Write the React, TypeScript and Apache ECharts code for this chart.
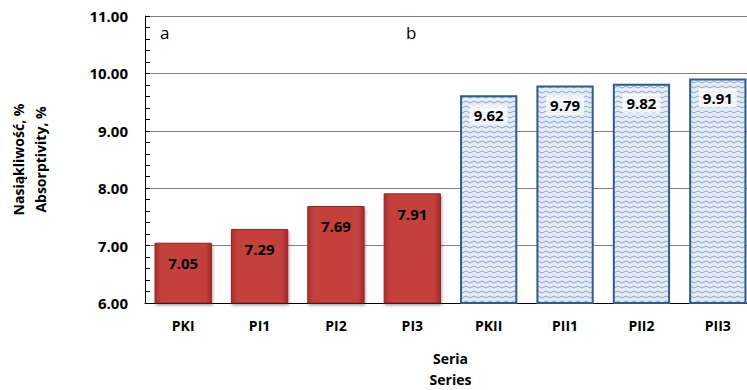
import React, { useEffect, useRef } from "react";
import * as echarts from "echarts";

const categories = ["PKI", "PI1", "PI2", "PI3", "PKII", "PII1", "PII2", "PII3"];
const groupA = [7.05, 7.29, 7.69, 7.91, null, null, null, null];
const groupB = [null, null, null, null, 9.62, 9.79, 9.82, 9.91];
const yTicks = { min: 6, max: 11, interval: 1 };

function makePattern(): HTMLCanvasElement {
  const c = document.createElement("canvas");
  c.width = 8;
  c.height = 5;
  const ctx = c.getContext("2d")!;
  ctx.fillStyle = "#e4ecf5";
  ctx.fillRect(0, 0, 8, 5);
  ctx.strokeStyle = "#8ea6c6";
  ctx.lineWidth = 1;
  ctx.beginPath();
  ctx.moveTo(0, 2);
  ctx.quadraticCurveTo(2, 0, 4, 2);
  ctx.quadraticCurveTo(6, 4, 8, 2);
  ctx.stroke();
  return c;
}

export default function App() {
  const ref = useRef<HTMLDivElement>(null);
  useEffect(() => {
    const chart = echarts.init(ref.current!, null, { renderer: "svg" });
    const font = "'Open Sans', 'Noto Sans', sans-serif";
    const pattern = makePattern();
    chart.setOption({
      animation: false,
      textStyle: { fontFamily: font },
      grid: { left: 145, top: 16, width: 611, bottom: 87, containLabel: false, outerBoundsMode: "none" },
      xAxis: {
        type: "category",
        data: categories,
        axisLine: { lineStyle: { color: "#000", width: 1 } },
        axisTick: { show: false },
        axisLabel: { color: "#000", fontWeight: "bold", fontSize: 14, margin: 15, fontFamily: font },
        name: "Seria\nSeries",
        nameLocation: "middle",
        nameGap: 45,
        nameTextStyle: { color: "#000", fontWeight: "bold", fontSize: 14, lineHeight: 21, fontFamily: font },
      },
      yAxis: {
        type: "value",
        min: yTicks.min,
        max: yTicks.max,
        interval: yTicks.interval,
        axisLine: { show: true, lineStyle: { color: "#000", width: 1 } },
        axisTick: { show: true, inside: true, length: 5, lineStyle: { color: "#000" } },
        minorTick: { show: true, splitNumber: 5, length: 5, lineStyle: { color: "#000" } },
        splitLine: { show: true, lineStyle: { color: "#808080", width: 1 } },
        axisLabel: {
          color: "#000",
          fontWeight: "bold",
          fontSize: 15,
          margin: 17,
          fontFamily: font,
          formatter: (v: number) => v.toFixed(2),
        },
        name: "Nasiąkliwość, %\nAbsorptivity, %",
        nameLocation: "middle",
        nameRotate: 90,
        nameGap: 94,
        nameTextStyle: { color: "#000", fontWeight: "bold", fontSize: 14, lineHeight: 22, fontFamily: font },
      },
      series: [
        {
          type: "bar",
          data: groupA,
          stack: "s",
          barWidth: "75%",
          itemStyle: {
            color: {
              type: "linear",
              x: 0,
              y: 0,
              x2: 1,
              y2: 0,
              colorStops: [
                { offset: 0, color: "#a92f2d" },
                { offset: 0.1, color: "#c43f3c" },
                { offset: 0.9, color: "#c43f3c" },
                { offset: 1, color: "#a02b2a" },
              ],
            },
            borderColor: "#8e2725",
            borderWidth: 1,
            shadowColor: "rgba(0,0,0,0.35)",
            shadowBlur: 3,
            shadowOffsetX: 1,
            shadowOffsetY: 2,
          },
          label: {
            show: true,
            position: "insideTop",
            distance: 13,
            color: "#000",
            fontWeight: "bold",
            fontSize: 15,
            fontFamily: font,
            formatter: (p: any) => p.value.toFixed(2),
          },
        },
        {
          type: "bar",
          data: groupB,
          stack: "s",
          barWidth: "75%",
          itemStyle: {
            color: { image: pattern, repeat: "repeat" },
            borderColor: "#2f5b8f",
            borderWidth: 2,
          },
          label: {
            show: true,
            position: "insideTop",
            distance: 10,
            color: "#000",
            fontWeight: "bold",
            fontSize: 15,
            fontFamily: font,
            backgroundColor: "rgba(255,255,255,0.75)",
            padding: [2, 4],
            formatter: (p: any) => p.value.toFixed(2),
          },
        },
      ],
      graphic: [
        { type: "text", left: 160, top: 24, style: { text: "a", fontSize: 17, fill: "#000", fontFamily: font } },
        { type: "text", left: 406, top: 24, style: { text: "b", fontSize: 17, fill: "#000", fontFamily: font } },
      ],
    });
    return () => chart.dispose();
  }, []);
  return <div ref={ref} style={{ width: 747, height: 390, position: "absolute", left: 0, top: 0 }} />;
}
